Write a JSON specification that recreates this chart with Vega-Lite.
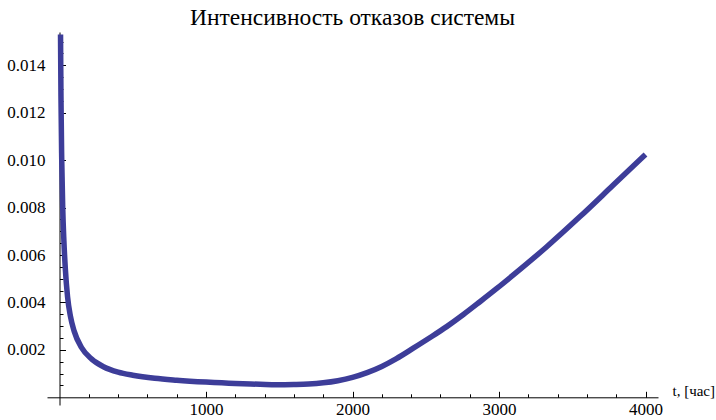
{
  "$schema": "https://vega.github.io/schema/vega-lite/v6.json",
  "width": 611,
  "height": 373,
  "autosize": {"type": "none"},
  "padding": {"left": 47, "top": 32, "right": 58, "bottom": 15},
  "background": "white",
  "title": {
    "text": "Интенсивность  отказов  системы",
    "font": "Liberation Serif",
    "fontSize": 23.5,
    "fontWeight": "normal",
    "color": "black",
    "anchor": "middle",
    "baseline": "alphabetic",
    "offset": 5,
    "dy": 21
  },
  "data": {
    "values": [
      {"t": 7, "lambda": 0.0153},
      {"t": 10, "lambda": 0.0127},
      {"t": 15, "lambda": 0.0101},
      {"t": 22, "lambda": 0.0080},
      {"t": 30, "lambda": 0.0066},
      {"t": 40, "lambda": 0.0054},
      {"t": 55, "lambda": 0.00424},
      {"t": 75, "lambda": 0.00341},
      {"t": 100, "lambda": 0.00279},
      {"t": 150, "lambda": 0.0021},
      {"t": 220, "lambda": 0.00161},
      {"t": 300, "lambda": 0.00129},
      {"t": 400, "lambda": 0.00106},
      {"t": 500, "lambda": 0.00093},
      {"t": 650, "lambda": 0.0008},
      {"t": 800, "lambda": 0.00072},
      {"t": 1000, "lambda": 0.00064},
      {"t": 1200, "lambda": 0.00058},
      {"t": 1369, "lambda": 0.00055},
      {"t": 1480, "lambda": 0.00053},
      {"t": 1600, "lambda": 0.00054},
      {"t": 1700, "lambda": 0.00056},
      {"t": 1800, "lambda": 0.00061},
      {"t": 1900, "lambda": 0.0007},
      {"t": 2000, "lambda": 0.00084},
      {"t": 2100, "lambda": 0.00104},
      {"t": 2200, "lambda": 0.0013},
      {"t": 2300, "lambda": 0.00163},
      {"t": 2415, "lambda": 0.00207},
      {"t": 2530, "lambda": 0.00252},
      {"t": 2643, "lambda": 0.00298},
      {"t": 2757, "lambda": 0.00349},
      {"t": 2870, "lambda": 0.00403},
      {"t": 2985, "lambda": 0.00459},
      {"t": 3098, "lambda": 0.00516},
      {"t": 3326, "lambda": 0.00635},
      {"t": 3553, "lambda": 0.00762},
      {"t": 3780, "lambda": 0.00895},
      {"t": 4000, "lambda": 0.01024}
    ]
  },
  "layer": [
    {
      "mark": {"type": "line", "color": "#3d3d99", "strokeWidth": 5.5, "interpolate": "monotone", "strokeCap": "butt", "clip": true},
      "encoding": {
        "x": {
          "field": "t", "type": "quantitative",
          "scale": {"domain": [-85.3, 4085.3], "nice": false, "zero": false},
          "axis": {
            "orient": "bottom", "offset": -7.7,
            "values": [1000, 2000, 3000, 4000], "format": "d",
            "tickSize": -6, "labelPadding": 10.5,
            "title": "t, [час]", "titleX": 625, "titleY": -2, "titleFontSize": 15,
            "titleAlign": "left", "titleBaseline": "alphabetic", "titleAngle": 0
          }
        },
        "y": {
          "field": "lambda", "type": "quantitative",
          "scale": {"domain": [-0.000325, 0.015404], "nice": false, "zero": false},
          "axis": {
            "orient": "left", "offset": -12.5,
            "values": [0.002, 0.004, 0.006, 0.008, 0.01, 0.012, 0.014], "format": ".3f",
            "tickSize": -6, "labelPadding": 20.5, "title": null
          }
        }
      }
    },
    {
      "mark": {"type": "line", "opacity": 0},
      "encoding": {
        "x": {
          "field": "t", "type": "quantitative",
          "axis": {
            "orient": "bottom", "offset": -7.7, "domain": false, "labels": false, "title": null,
            "values": [200, 400, 600, 800, 1200, 1400, 1600, 1800, 2200, 2400, 2600, 2800, 3200, 3400, 3600, 3800],
            "tickSize": -3.5
          }
        },
        "y": {
          "field": "lambda", "type": "quantitative",
          "axis": {
            "orient": "left", "offset": -12.5, "domain": false, "labels": false, "title": null,
            "values": [0.0005, 0.001, 0.0015, 0.0025, 0.003, 0.0035, 0.0045, 0.005, 0.0055, 0.0065, 0.007, 0.0075, 0.0085, 0.009, 0.0095, 0.0105, 0.011, 0.0115, 0.0125, 0.013, 0.0135, 0.0145, 0.015],
            "tickSize": -3.5
          }
        }
      }
    }
  ],
  "resolve": {"axis": {"x": "independent", "y": "independent"}},
  "config": {
    "view": {"stroke": null},
    "axis": {
      "grid": false,
      "domainColor": "black", "domainWidth": 1,
      "tickColor": "black", "tickWidth": 1,
      "labelColor": "black", "labelFont": "Liberation Serif", "labelFontSize": 17,
      "titleColor": "black", "titleFont": "Liberation Serif", "titleFontSize": 17, "titleFontWeight": "normal"
    }
  }
}
